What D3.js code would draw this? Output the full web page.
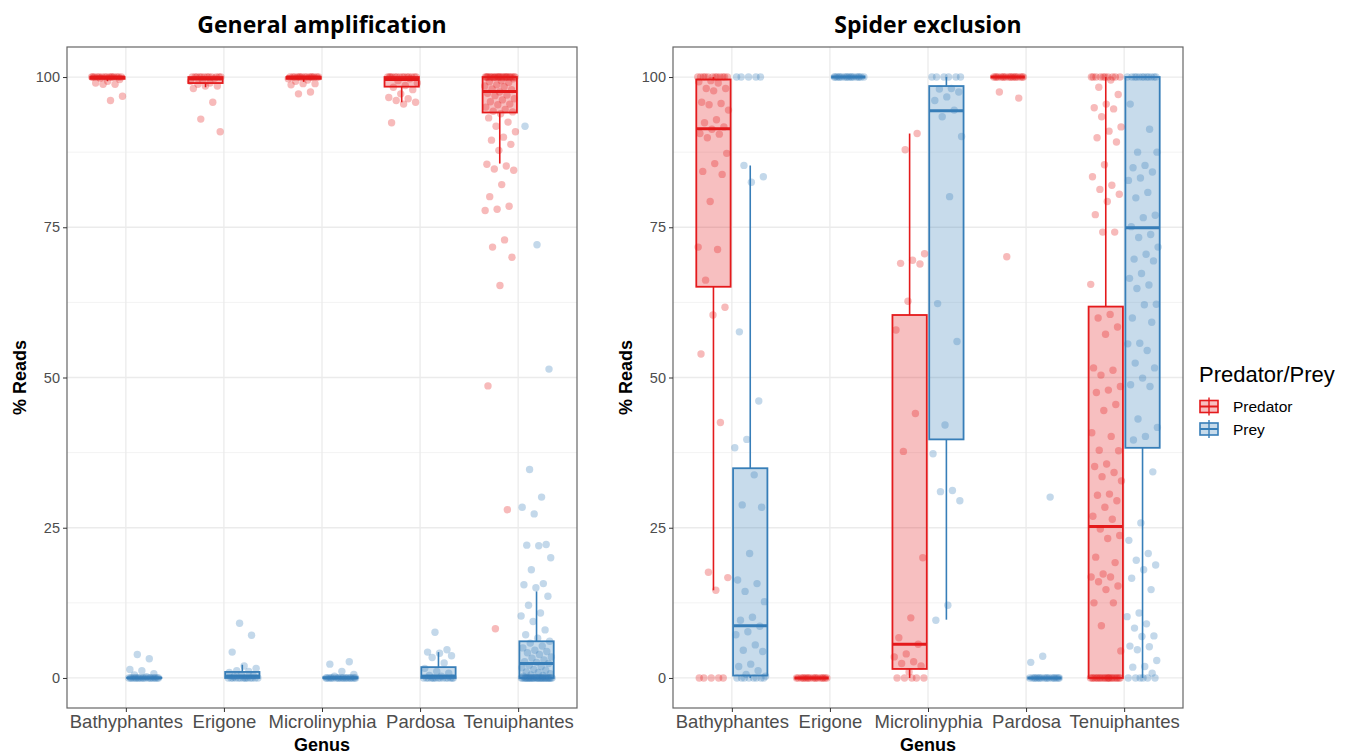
<!DOCTYPE html>
<html>
<head>
<meta charset="utf-8">
<script src="https://cdn.jsdelivr.net/npm/d3@7"></script>
<style>
  body { margin: 0; background: #fff; }
  svg text { font-family: "Liberation Sans", Arial, sans-serif; }
  .panel-title { font-family: "Open Sans", sans-serif !important; font-weight: 700; font-size: 23px; fill: #000; }
  .axis-title { font-weight: 700; font-size: 18px; fill: #000; }
  .y-axis text { font-size: 14.5px; fill: #4d4d4d; }
  .x-axis text { font-size: 18.5px; fill: #4d4d4d; }
  .y-axis line, .x-axis line { stroke: #333; }
</style>
</head>
<body>
<svg id="chart" width="1350" height="754"></svg>
<script>
// genus categories and groups
const genera = ["Bathyphantes", "Erigone", "Microlinyphia", "Pardosa", "Tenuiphantes"];
const roles = ["Predator", "Prey"];
const roleColors = ["#E41A1C", "#377EB8"];
const yTicks = [0, 25, 50, 75, 100];
const yMinor = [12.5, 37.5, 62.5, 87.5];
const panelTitles = ["General amplification", "Spider exclusion"];

// box stats per genus: [lower whisker, q1, median, q3, upper whisker]
const ampPredatorBox = [
  [99.3, 99.7, 100, 100, 100],
  [98.3, 99.0, 99.7, 100, 100],
  [99.2, 99.7, 100, 100, 100],
  [95.8, 98.4, 99.6, 100, 100],
  [85.6, 94.1, 97.6, 100, 100]
];
const ampPreyBox = [
  [0, 0, 0, 0.05, 0.1],
  [0, 0, 0.3, 1.0, 2.2],
  [0, 0, 0, 0.1, 0.3],
  [0, 0, 0.3, 1.8, 4.3],
  [0, 0, 2.4, 6.1, 14.4]
];
const spdPredatorBox = [
  [14.6, 65.1, 91.4, 99.6, 100],
  [0, 0, 0, 0, 0],
  [0, 1.5, 5.6, 60.4, 90.6],
  [100, 100, 100, 100, 100],
  [0, 0, 25.2, 61.8, 100]
];
const spdPreyBox = [
  [0, 0.4, 8.7, 34.9, 85.3],
  [100, 100, 100, 100, 100],
  [9.7, 39.7, 94.4, 98.5, 100],
  [0, 0, 0, 0, 0],
  [0, 38.3, 74.9, 100, 100]
];

// % reads per sample, per genus
const ampPredatorPoints = [
  [100, 100, 100, 100, 100, 100, 100, 100, 100, 100, 100, 100, 100, 100, 100, 99.8, 99.6, 99.3, 99.0, 98.8, 98.8, 96.8, 96.1],
  [100, 100, 100, 100, 100, 100, 100, 100, 100, 100, 100, 100, 99.8, 99.5, 99.3, 99.0, 98.8, 98.5, 98.5, 98.1, 95.8, 93.0, 90.9],
  [100, 100, 100, 100, 100, 100, 100, 100, 100, 100, 100, 100, 100, 100, 100, 99.7, 99.5, 99.3, 98.9, 98.9, 98.7, 97.5, 97.2],
  [100, 100, 100, 100, 100, 100, 100, 100, 100, 100, 100, 100, 100, 100, 99.7, 99.4, 99.0, 98.6, 98.3, 97.9, 97.2, 96.6, 96.4, 96.1, 95.8, 95.5, 92.4],
  [100, 100, 100, 100, 100, 100, 100, 100, 100, 100, 100, 100, 100, 100, 100, 100, 100, 100, 100, 100, 100, 100, 100, 100,
   99.9, 99.7, 99.4, 99.2, 99.1, 98.7, 98.5, 98.4, 98.0, 97.9, 97.5, 97.3, 97.0, 96.9, 96.4, 96.2, 95.9, 95.5, 95.4, 95.0,
   94.6, 94.3, 94.2, 93.9, 93.2, 92.5, 91.8, 90.9, 90.0, 89.5, 88.8, 87.8, 85.5, 85.2, 84.7, 84.5, 82.1, 80.1, 78.5, 78.0,
   77.8, 72.9, 71.7, 70.0, 65.3, 48.6, 28.0, 8.2]
];
const ampPreyPoints = [
  [0, 0, 0, 0, 0, 0, 0, 0, 0, 0, 0, 0, 0, 0, 0, 0, 0, 0, 0, 0, 0.2, 0.5, 0.7, 1.2, 1.4, 3.2, 3.9],
  [0, 0, 0, 0, 0, 0, 0, 0, 0, 0, 0, 0, 0, 0, 0.2, 0.4, 0.6, 0.9, 1.1, 1.2, 1.6, 2.0, 4.3, 7.1, 9.1],
  [0, 0, 0, 0, 0, 0, 0, 0, 0, 0, 0, 0, 0, 0, 0, 0, 0, 0, 0, 0, 0.3, 0.6, 1.1, 2.3, 2.7],
  [0, 0, 0, 0, 0, 0, 0, 0, 0, 0, 0, 0, 0, 0, 0, 0.3, 0.4, 0.8, 1.1, 1.6, 2.5, 3.4, 3.7, 4.1, 4.3, 4.7, 7.6],
  [0, 0, 0, 0, 0, 0, 0, 0, 0, 0, 0, 0, 0, 0, 0, 0, 0, 0, 0, 0, 0, 0, 0, 0, 0, 0, 0, 0, 0, 0, 0, 0,
   0.1, 0.3, 0.4, 0.5, 0.7, 0.9, 1.0, 1.3, 1.4, 1.7, 1.9, 2.1, 2.4, 2.6, 2.7, 3.0, 3.3, 3.5, 3.9, 4.2,
   4.4, 4.6, 5.0, 5.3, 5.8, 6.1, 6.6, 7.2, 8.0, 9.4, 10.3, 10.8, 12.1, 13.6, 15.0, 15.5, 15.7, 18.0, 20.0,
   22.0, 22.1, 22.2, 27.3, 28.4, 30.1, 34.7, 51.4, 72.1, 91.8]
];
const spdPredatorPoints = [
  [100, 100, 100, 100, 100, 100, 100, 100, 100, 100, 100, 100, 99.4, 99.2, 99.0, 98.1, 98.1, 97.7, 95.8, 95.6, 95.4,
   94.5, 92.9, 92.4, 91.7, 91.3, 90.6, 90.5, 89.9, 87.3, 85.6, 84.3, 83.8, 79.3, 71.7, 71.3, 66.2, 61.7, 60.4, 53.9,
   42.5, 17.6, 16.7, 14.6, 0, 0, 0, 0, 0],
  [0, 0, 0, 0, 0, 0, 0, 0, 0, 0, 0, 0, 0, 0, 0, 0, 0, 0],
  [90.6, 87.9, 70.6, 69.5, 69.0, 68.9, 62.7, 57.9, 44.0, 37.7, 20.0, 10.0, 6.7, 5.6, 4.0, 3.5, 2.7, 2.4, 2.0, 1.0, 0, 0, 0, 0, 0],
  [100, 100, 100, 100, 100, 100, 100, 100, 100, 100, 100, 100, 100, 100, 100, 100, 100, 100, 97.5, 96.5, 70.1],
  [100, 100, 100, 100, 100, 100, 100, 100, 100, 100, 99.5, 98.3, 97.1, 95.5, 94.9, 94.7, 93.4, 91.7, 91.0, 89.9, 89.2,
   85.4, 83.4, 82.0, 81.3, 80.5, 79.3, 77.1, 74.2, 74.2, 65.5, 60.5, 59.9, 58.4, 57.2, 51.6, 51.2, 50.4, 48.5, 47.9,
   47.5, 45.5, 44.5, 40.8, 40.2, 37.9, 37.8, 35.6, 35.2, 34.2, 33.5, 32.8, 30.6, 30.4, 29.5, 28.4, 26.9, 26.4, 24.8,
   23.7, 23.2, 20.1, 19.2, 17.3, 16.8, 16.8, 16.0, 15.3, 14.7, 12.5, 12.5, 8.7, 4.5,
   0, 0, 0, 0, 0, 0, 0, 0, 0, 0, 0, 0, 0, 0, 0, 0, 0, 0, 0, 0, 0, 0]
];
const spdPreyPoints = [
  [100, 100, 100, 100, 100, 85.3, 83.4, 82.5, 57.6, 46.1, 39.7, 38.3, 33.8, 28.8, 28.4, 20.7, 16.3, 15.7, 14.4, 12.7,
   10.1, 9.6, 8.6, 7.7, 7.2, 5.5, 4.6, 4.4, 2.3, 1.9, 1.2, 0.6, 0.3, 0, 0, 0, 0, 0, 0, 0, 0],
  [100, 100, 100, 100, 100, 100, 100, 100, 100, 100, 100, 100, 100, 100, 100, 100, 100, 100],
  [100, 100, 100, 100, 100, 100, 98.1, 98.0, 97.5, 96.7, 96.1, 94.5, 93.4, 90.1, 80.1, 62.3, 56.0, 42.1, 37.3, 31.2,
   31.0, 29.5, 12.1, 9.6],
  [0, 0, 0, 0, 0, 0, 0, 0, 0, 0, 0, 0, 0, 0, 0, 0, 0, 0, 3.6, 2.6, 30.1],
  [100, 100, 100, 100, 100, 100, 100, 100, 100, 100, 100, 100, 95.5, 91.3, 87.5, 87.5, 85.3, 84.9, 84.2, 83.2, 82.8,
   80.8, 79.9, 77.0, 76.6, 75.1, 73.8, 73.3, 71.7, 70.5, 69.7, 69.4, 67.3, 66.5, 65.4, 64.8, 62.2, 62.1, 59.9, 59.2,
   55.7, 55.6, 54.5, 52.4, 51.6, 49.9, 48.8, 48.5, 43.1, 41.7, 40.2, 39.6, 34.3, 25.8, 22.9, 20.7, 19.6, 18.8, 18.0,
   16.6, 14.7, 10.8, 10.2, 9.0, 8.3, 7.0, 6.9, 5.3, 5.2, 4.7, 2.9, 1.9, 1.8, 0.8, 0, 0, 0, 0, 0, 0]
];

const svg = d3.select("svg#chart");
const panelTop = 47;
const panelBottom = 708;
const panelWidth = 510;
const panelLefts = [67, 673];

const yScale = d3.scaleLinear().domain([-5, 105]).range([panelBottom, panelTop]);

const panels = [
  { boxes: [ampPredatorBox, ampPreyBox], points: [ampPredatorPoints, ampPreyPoints] },
  { boxes: [spdPredatorBox, spdPreyBox], points: [spdPredatorPoints, spdPreyPoints] }
];

panels.forEach((panel, p) => {
  const x0 = panelLefts[p];
  const xScale = d3.scalePoint().domain(genera).range([x0, x0 + panelWidth]).padding(0.6);
  const step = xScale.step();
  const dodge = step * 0.1875;
  const boxW = step * 0.35;
  const jitterHalf = step * 0.16;

  const g = svg.append("g").attr("class", "panel");

  // gridlines
  g.selectAll("line.minor")
    .data(yMinor)
    .join("line")
    .attr("x1", x0).attr("x2", x0 + panelWidth)
    .attr("y1", (d) => yScale(d)).attr("y2", (d) => yScale(d))
    .attr("stroke", "#f3f3f3").attr("stroke-width", 1);
  g.selectAll("line.major")
    .data(yTicks)
    .join("line")
    .attr("x1", x0).attr("x2", x0 + panelWidth)
    .attr("y1", (d) => yScale(d)).attr("y2", (d) => yScale(d))
    .attr("stroke", "#ebebeb").attr("stroke-width", 1.3);
  g.selectAll("line.vgrid")
    .data(genera)
    .join("line")
    .attr("x1", (d) => xScale(d)).attr("x2", (d) => xScale(d))
    .attr("y1", panelTop).attr("y2", panelBottom)
    .attr("stroke", "#ebebeb").attr("stroke-width", 1.3);

  // boxplots
  roles.forEach((role, r) => {
    const color = roleColors[r];
    const off = r === 0 ? -dodge : dodge;
    genera.forEach((genus, gi) => {
      const [lo, q1, med, q3, hi] = panel.boxes[r][gi];
      const cx = xScale(genus) + off;
      const bg = g.append("g").attr("class", "box");
      bg.append("line")
        .attr("x1", cx).attr("x2", cx)
        .attr("y1", yScale(q3)).attr("y2", yScale(hi))
        .attr("stroke", color).attr("stroke-width", 1.6);
      bg.append("line")
        .attr("x1", cx).attr("x2", cx)
        .attr("y1", yScale(q1)).attr("y2", yScale(lo))
        .attr("stroke", color).attr("stroke-width", 1.6);
      bg.append("rect")
        .attr("x", cx - boxW / 2)
        .attr("y", yScale(q3))
        .attr("width", boxW)
        .attr("height", yScale(q1) - yScale(q3))
        .attr("fill", color).attr("fill-opacity", 0.28)
        .attr("stroke", color).attr("stroke-width", 1.8);
      bg.append("line")
        .attr("x1", cx - boxW / 2).attr("x2", cx + boxW / 2)
        .attr("y1", yScale(med)).attr("y2", yScale(med))
        .attr("stroke", color).attr("stroke-width", 3);
    });
  });

  // jittered points
  roles.forEach((role, r) => {
    const color = roleColors[r];
    const off = r === 0 ? -dodge : dodge;
    genera.forEach((genus, gi) => {
      const vals = panel.points[r][gi];
      g.append("g")
        .selectAll("circle")
        .data(vals)
        .join("circle")
        .attr("cx", (d, i) => {
          const frac = (i * 0.6180339887 + gi * 0.37 + r * 0.21) % 1;
          return xScale(genus) + off + (frac - 0.5) * 2 * jitterHalf;
        })
        .attr("cy", (d) => yScale(d))
        .attr("r", 3.7)
        .attr("fill", color)
        .attr("fill-opacity", 0.3)
        .attr("stroke", "none");
    });
  });

  // panel border
  g.append("rect")
    .attr("x", x0).attr("y", panelTop)
    .attr("width", panelWidth).attr("height", panelBottom - panelTop)
    .attr("fill", "none").attr("stroke", "#666").attr("stroke-width", 1.2);

  // axes
  const yAxis = d3.axisLeft(yScale).tickValues(yTicks).tickSize(4).tickPadding(3);
  g.append("g")
    .attr("class", "y-axis")
    .attr("transform", `translate(${x0}, 0)`)
    .call(yAxis)
    .call((a) => a.select(".domain").remove());

  const xAxis = d3.axisBottom(xScale).tickSize(4).tickPadding(3);
  g.append("g")
    .attr("class", "x-axis")
    .attr("transform", `translate(0, ${panelBottom})`)
    .call(xAxis)
    .call((a) => a.select(".domain").remove());

  // titles
  g.append("text")
    .attr("class", "panel-title")
    .attr("x", x0 + panelWidth / 2)
    .attr("y", 33)
    .attr("text-anchor", "middle")
    .text(panelTitles[p]);
  g.append("text")
    .attr("class", "axis-title")
    .attr("x", x0 + panelWidth / 2)
    .attr("y", 751)
    .attr("text-anchor", "middle")
    .text("Genus");
  g.append("text")
    .attr("class", "axis-title")
    .attr("transform", `translate(${x0 - 41}, ${(panelTop + panelBottom) / 2}) rotate(-90)`)
    .attr("text-anchor", "middle")
    .text("% Reads");
});

// legend
const legend = svg.append("g").attr("class", "legend").attr("transform", "translate(1199, 0)");
legend.append("text")
  .attr("x", 0).attr("y", 382)
  .style("font-size", "22px")
  .attr("fill", "#000")
  .text("Predator/Prey");
roles.forEach((role, r) => {
  const cy = 406.5 + r * 22.5;
  const color = roleColors[r];
  const key = legend.append("g");
  key.append("line")
    .attr("x1", 10).attr("x2", 10)
    .attr("y1", cy - 9).attr("y2", cy + 9)
    .attr("stroke", color).attr("stroke-width", 1.4);
  key.append("rect")
    .attr("x", 1).attr("y", cy - 6)
    .attr("width", 18).attr("height", 12)
    .attr("fill", color).attr("fill-opacity", 0.28)
    .attr("stroke", color).attr("stroke-width", 1.6);
  key.append("line")
    .attr("x1", 1).attr("x2", 19)
    .attr("y1", cy).attr("y2", cy)
    .attr("stroke", color).attr("stroke-width", 2);
  key.append("text")
    .attr("x", 34).attr("y", cy + 5.5)
    .style("font-size", "15.5px")
    .attr("fill", "#000")
    .text(role);
});
</script>
</body>
</html>
